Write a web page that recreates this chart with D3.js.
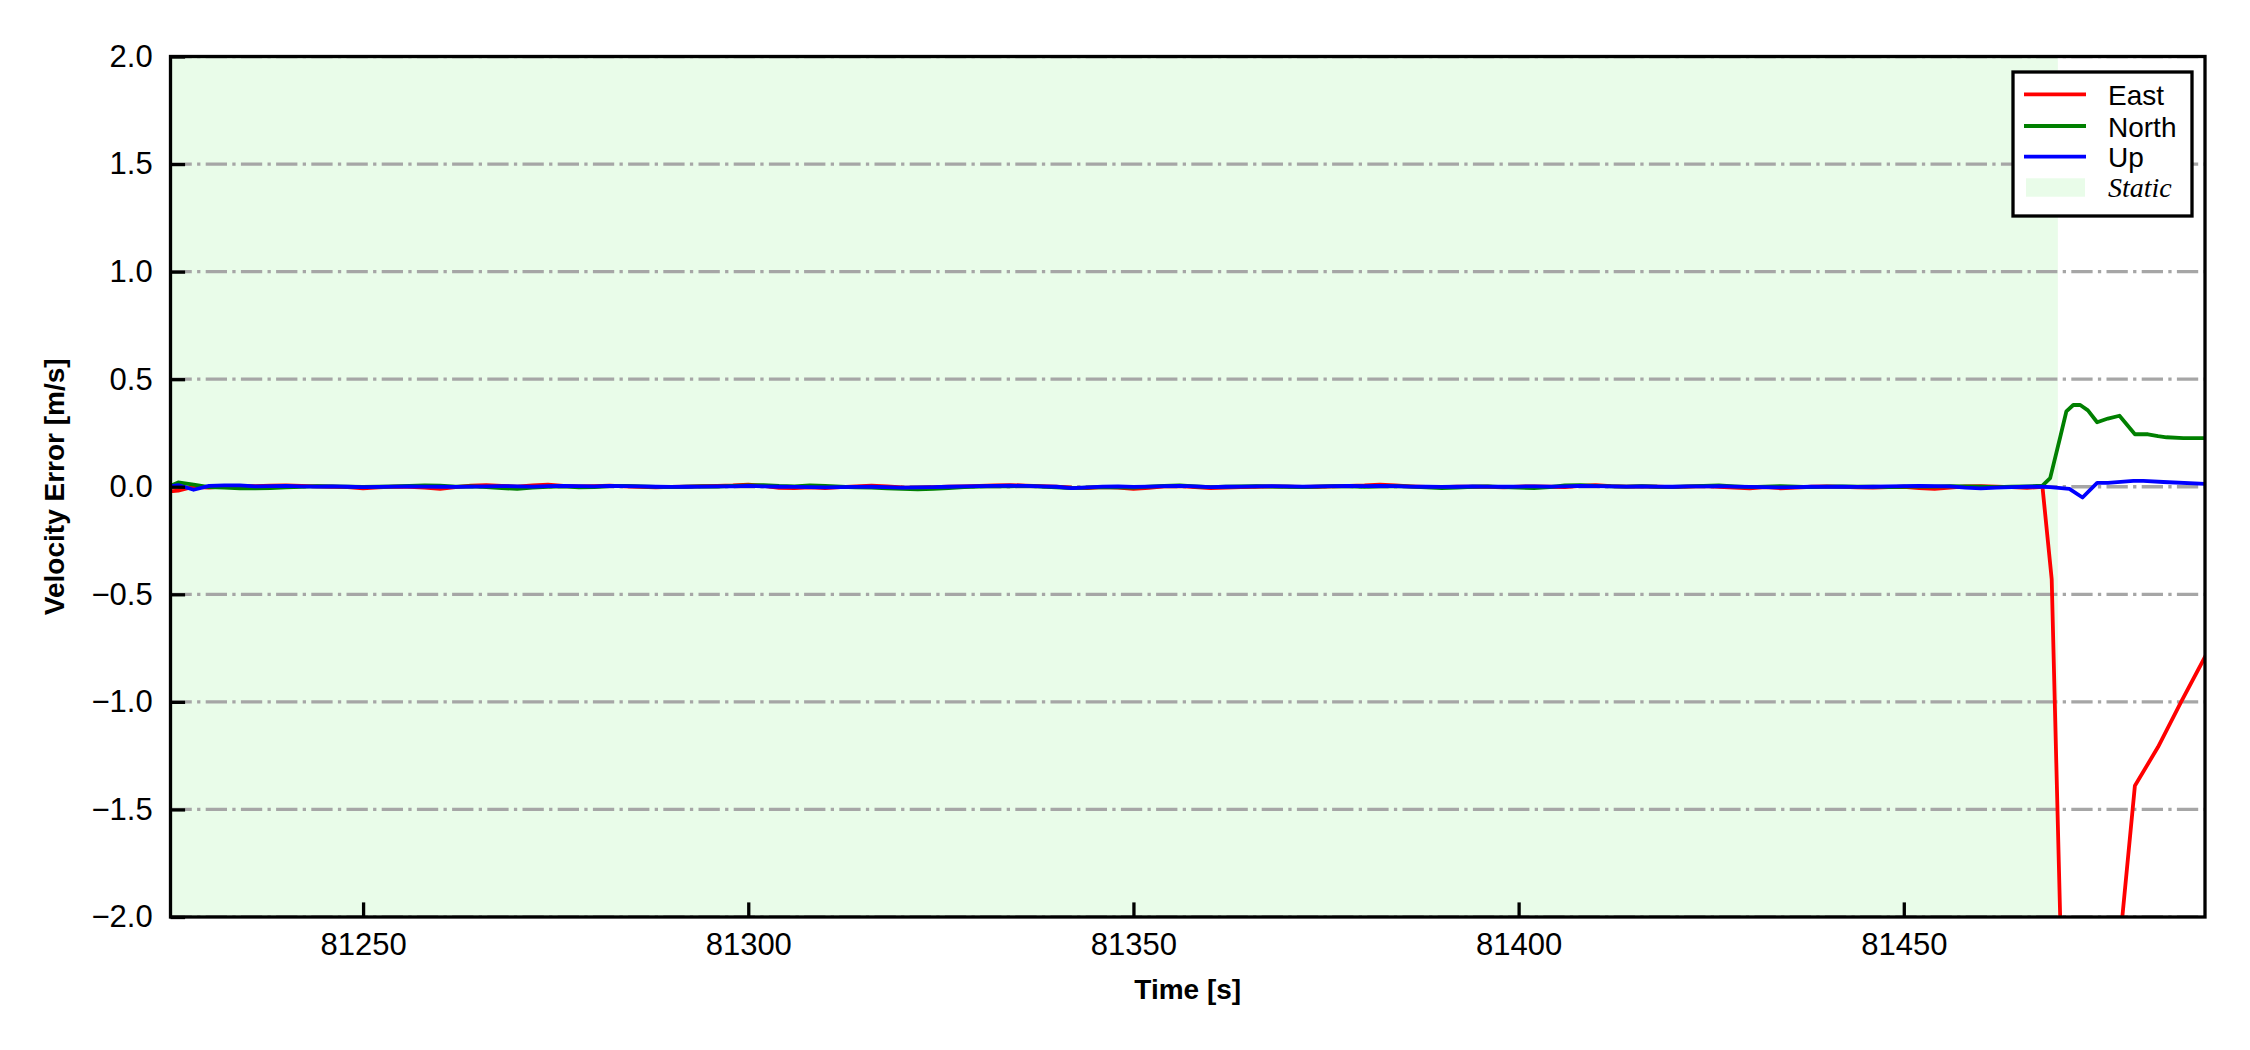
<!DOCTYPE html>
<html>
<head>
<meta charset="utf-8">
<script src="https://cdn.jsdelivr.net/npm/d3@7"></script>
<style>
  body { margin: 0; background: #fff; }
  text { font-family: "Liberation Sans", Arial, sans-serif; }
</style>
</head>
<body>
<svg id="chart" width="2250" height="1050"></svg>
<script>
// flat part of the record, 2 s steps
var flatTime = [
  81224, 81226, 81228, 81230, 81232, 81234, 81236, 81238, 81240, 81242,
  81244, 81246, 81248, 81250, 81252, 81254, 81256, 81258, 81260, 81262,
  81264, 81266, 81268, 81270, 81272, 81274, 81276, 81278, 81280, 81282,
  81284, 81286, 81288, 81290, 81292, 81294, 81296, 81298, 81300, 81302,
  81304, 81306, 81308, 81310, 81312, 81314, 81316, 81318, 81320, 81322,
  81324, 81326, 81328, 81330, 81332, 81334, 81336, 81338, 81340, 81342,
  81344, 81346, 81348, 81350, 81352, 81354, 81356, 81358, 81360, 81362,
  81364, 81366, 81368, 81370, 81372, 81374, 81376, 81378, 81380, 81382,
  81384, 81386, 81388, 81390, 81392, 81394, 81396, 81398, 81400, 81402,
  81404, 81406, 81408, 81410, 81412, 81414, 81416, 81418, 81420, 81422,
  81424, 81426, 81428, 81430, 81432, 81434, 81436, 81438, 81440, 81442,
  81444, 81446, 81448, 81450, 81452, 81454, 81456, 81458, 81460, 81462,
  81464, 81466, 81468
];
var eastFlat = [
  -0.025, -0.018, 0.0, -0.004, 0.002, 0.004, 0.003, 0.005, 0.006, 0.004,
  0.002, 0.0, -0.002, -0.008, -0.003, 0.001, 0.0, -0.004, -0.01, -0.002,
  0.005, 0.008, 0.004, 0.001, 0.006, 0.01, 0.004, 0.002, 0.003, 0.005,
  0.002, -0.001, -0.003, -0.001, 0.001, 0.003, 0.004, 0.006, 0.01, 0.004,
  -0.005, -0.006, -0.003, -0.006, -0.002, 0.002, 0.005, 0.002, -0.003, -0.004,
  -0.002, 0.0, 0.002, 0.004, 0.006, 0.008, 0.005, 0.003, 0.0, -0.004,
  -0.006, -0.002, -0.004, -0.01, -0.005, 0.002, 0.003, -0.002, -0.006, -0.004,
  -0.002, 0.0, 0.002, 0.001, -0.001, 0.0, 0.002, 0.004, 0.006, 0.01,
  0.006, 0.002, -0.001, -0.002, 0.0, 0.001, 0.0, -0.003, 0.001, 0.002,
  0.0, -0.002, 0.004, 0.008, 0.003, 0.001, 0.002, 0.0, -0.002, 0.001,
  0.003, -0.001, -0.004, -0.008, -0.002, -0.007, -0.004, 0.0, 0.002, -0.001,
  -0.003, -0.004, -0.002, 0.0, -0.006, -0.01, -0.004, 0.002, 0.003, 0.0,
  -0.002, -0.005, 0.0
];
var northFlat = [
  -0.012, 0.02, 0.01, -0.002, -0.004, -0.007, -0.008, -0.006, -0.003, -0.001,
  0.003, 0.002, 0.001, -0.001, 0.0, 0.002, 0.004, 0.006, 0.005, 0.001,
  0.002, -0.002, -0.006, -0.01, -0.004, 0.0, 0.002, -0.003, -0.002, 0.003,
  0.004, 0.002, -0.001, -0.002, 0.0, 0.002, 0.001, 0.004, 0.006, 0.008,
  0.004, 0.002, 0.006, 0.004, 0.0, -0.003, -0.004, -0.008, -0.01, -0.012,
  -0.01, -0.006, -0.002, 0.001, 0.003, 0.002, 0.004, 0.001, -0.003, -0.006,
  -0.004, -0.002, -0.003, -0.004, 0.001, 0.004, 0.006, 0.002, -0.002, 0.0,
  0.002, 0.003, 0.001, 0.0, -0.002, 0.001, 0.003, 0.002, 0.0, 0.002,
  0.003, 0.001, -0.003, -0.006, -0.004, 0.0, 0.002, -0.002, -0.004, -0.006,
  -0.002, 0.006, 0.008, 0.004, 0.002, 0.001, 0.003, 0.0, -0.001, 0.002,
  0.004, 0.006, 0.002, -0.002, 0.001, 0.003, 0.0, -0.002, 0.001, 0.002,
  0.0, 0.001, -0.002, 0.0, 0.002, 0.001, 0.003, 0.002, 0.0, -0.002,
  0.0, 0.002, 0.005
];
var upFlat = [
  -0.005, 0.008, -0.014, 0.004, 0.006, 0.006, 0.002, 0.003, 0.004, 0.002,
  0.001, 0.002, 0.0, -0.002, -0.001, 0.001, 0.002, 0.001, 0.0, -0.001,
  0.001, 0.002, 0.003, 0.002, 0.001, 0.003, 0.004, 0.003, 0.002, 0.004,
  0.003, 0.002, 0.0, -0.001, 0.0, 0.001, 0.002, 0.002, 0.004, 0.002,
  0.0, -0.001, -0.002, -0.003, -0.002, -0.001, 0.0, -0.002, -0.004, -0.003,
  -0.002, 0.0, 0.002, 0.003, 0.004, 0.005, 0.004, 0.002, 0.0, -0.006,
  -0.003, 0.001, 0.002, -0.001, 0.001, 0.003, 0.004, 0.002, -0.002, 0.0,
  0.001, 0.002, 0.003, 0.002, 0.001, 0.002, 0.003, 0.004, 0.003, 0.004,
  0.003, 0.001, 0.0, -0.001, 0.0, 0.002, 0.001, 0.0, 0.001, 0.002,
  0.001, 0.002, 0.004, 0.003, 0.002, 0.001, 0.002, 0.001, 0.0, 0.002,
  0.002, 0.003, 0.001, -0.001, -0.002, -0.003, -0.002, 0.0, 0.001, 0.0,
  -0.001, 0.0, 0.002, 0.003, 0.004, 0.003, 0.002, -0.004, -0.008, -0.004,
  -0.002, 0.0, 0.0
];

// end of the record, after the static period
var eastTailTime = [81469.2, 81471, 81474, 81477, 81478.1, 81480, 81483, 81486, 81490];
var eastTail = [-0.43, -3.0, -4.2, -3.0, -2.1, -1.39, -1.21, -1.0, -0.73];
var northTailTime = [81469, 81470.3, 81471.1, 81472, 81472.9, 81473.9, 81475.1, 81476.5,
  81478, 81480, 81481.7, 81483, 81484.1, 81486.3, 81490];
var northTail = [0.04, 0.23, 0.35, 0.38, 0.38, 0.355, 0.30, 0.317,
  0.33, 0.244, 0.244, 0.235, 0.23, 0.226, 0.226];
var upTailTime = [81469, 81471.5, 81473.2, 81475.1, 81476.5, 81479.8, 81481.1, 81483.7, 81490];
var upTail = [-0.002, -0.01, -0.05, 0.018, 0.018, 0.027, 0.027, 0.022, 0.012];

var staticSpan = [81224, 81470];
var xTicks = [81250, 81300, 81350, 81400, 81450];
var yTicks = [-2.0, -1.5, -1.0, -0.5, 0.0, 0.5, 1.0, 1.5, 2.0];
var seriesNames = ["East", "North", "Up"];
var seriesColors = ["#ff0000", "#008000", "#0000ff"];

function join(t1, v1, t2, v2){
    var pts = t1.map((t, i) => [t, v1[i]]);
    return pts.concat(t2.map((t, i) => [t, v2[i]]));
}

var series = [
    join(flatTime, eastFlat, eastTailTime, eastTail),
    join(flatTime, northFlat, northTailTime, northTail),
    join(flatTime, upFlat, upTailTime, upTail)
];

var svg = d3.select("#chart");
var plot = { left: 170.5, right: 2205, top: 56.5, bottom: 917 };

var x = d3.scaleLinear().domain([81225, 81489.1]).range([plot.left, plot.right]);
var y = d3.scaleLinear().domain([-2, 2]).range([plot.bottom, plot.top]);

svg.append("rect").attr("width", 2250).attr("height", 1050).attr("fill", "#fff");

svg.append("clipPath").attr("id", "clip")
    .append("rect")
        .attr("x", plot.left)
        .attr("y", plot.top)
        .attr("width", plot.right - plot.left)
        .attr("height", plot.bottom - plot.top);

var inner = svg.append("g").attr("clip-path", "url(#clip)");

// static period
inner.append("rect")
    .attr("x", x(staticSpan[0]))
    .attr("y", plot.top)
    .attr("width", x(staticSpan[1]) - x(staticSpan[0]))
    .attr("height", plot.bottom - plot.top)
    .attr("fill", "#e9fce9");

// horizontal grid, dash-dot
inner.selectAll(".grid")
    .data(yTicks)
    .enter().append("line")
        .attr("x1", plot.left)
        .attr("x2", plot.right)
        .attr("y1", d => y(d))
        .attr("y2", d => y(d))
        .attr("stroke", "#a6a6a6")
        .attr("stroke-width", 3.3)
        .attr("stroke-dasharray", "21.3,5.3,3.3,5.3");

var line = d3.line().x(d => x(d[0])).y(d => y(d[1]));

inner.selectAll(".series")
    .data(series)
    .enter().append("path")
        .attr("d", line)
        .attr("fill", "none")
        .attr("stroke", (d, i) => seriesColors[i])
        .attr("stroke-width", 3.8)
        .attr("stroke-linejoin", "round");

// axes with inward ticks
var xAxis = svg.append("g")
    .attr("transform", "translate(0," + plot.bottom + ")")
    .call(d3.axisBottom(x).tickValues(xTicks).tickFormat(d3.format("d"))
        .tickSizeInner(-14.6).tickSizeOuter(0));
xAxis.selectAll("text").attr("y", 38).attr("dy", 0);

var yAxis = svg.append("g")
    .attr("transform", "translate(" + plot.left + ",0)")
    .call(d3.axisLeft(y).tickValues(yTicks).tickFormat(d3.format(".1f"))
        .tickSizeInner(-14.6).tickSizeOuter(0).tickPadding(17.8));

[xAxis, yAxis].forEach(function(g){
    g.select(".domain").remove();
    g.selectAll("line").attr("stroke", "#000").attr("stroke-width", 3.3);
    g.selectAll("text")
        .attr("fill", "#000")
        .style("font-family", "'Liberation Sans', Arial, sans-serif")
        .style("font-size", "31px");
});

svg.append("rect")
    .attr("x", plot.left)
    .attr("y", plot.top)
    .attr("width", plot.right - plot.left)
    .attr("height", plot.bottom - plot.top)
    .attr("fill", "none")
    .attr("stroke", "#000")
    .attr("stroke-width", 3.3);

svg.append("text")
    .attr("x", (plot.left + plot.right) / 2)
    .attr("y", 999)
    .style("text-anchor", "middle")
    .style("font-size", "28px")
    .style("font-weight", "bold")
    .text("Time [s]");

svg.append("text")
    .attr("transform", "translate(54.5," + y(0) + ") rotate(-90)")
    .attr("dy", "0.35em")
    .style("text-anchor", "middle")
    .style("font-size", "28px")
    .style("font-weight", "bold")
    .text("Velocity Error [m/s]");

// legend
var legend = svg.append("g");
legend.append("rect")
    .attr("x", 2013)
    .attr("y", 72)
    .attr("width", 179)
    .attr("height", 144)
    .attr("fill", "#fff")
    .attr("stroke", "#000")
    .attr("stroke-width", 3.3);

var rowY = [94.3, 126, 156.7];
seriesNames.forEach(function(name, i){
    legend.append("line")
        .attr("x1", 2024).attr("x2", 2086)
        .attr("y1", rowY[i]).attr("y2", rowY[i])
        .attr("stroke", seriesColors[i])
        .attr("stroke-width", 3.8);
    legend.append("text")
        .attr("x", 2108)
        .attr("y", rowY[i] + 10.5)
        .style("font-size", "28px")
        .text(name);
});
legend.append("rect")
    .attr("x", 2026).attr("y", 178.3)
    .attr("width", 59).attr("height", 18.4)
    .attr("fill", "#e9fce9");
legend.append("text")
    .attr("x", 2108)
    .attr("y", 196.7)
    .style("font-family", "'Liberation Serif', 'Times New Roman', serif")
    .style("font-style", "italic")
    .style("font-size", "28px")
    .text("Static");
</script>
</body>
</html>
